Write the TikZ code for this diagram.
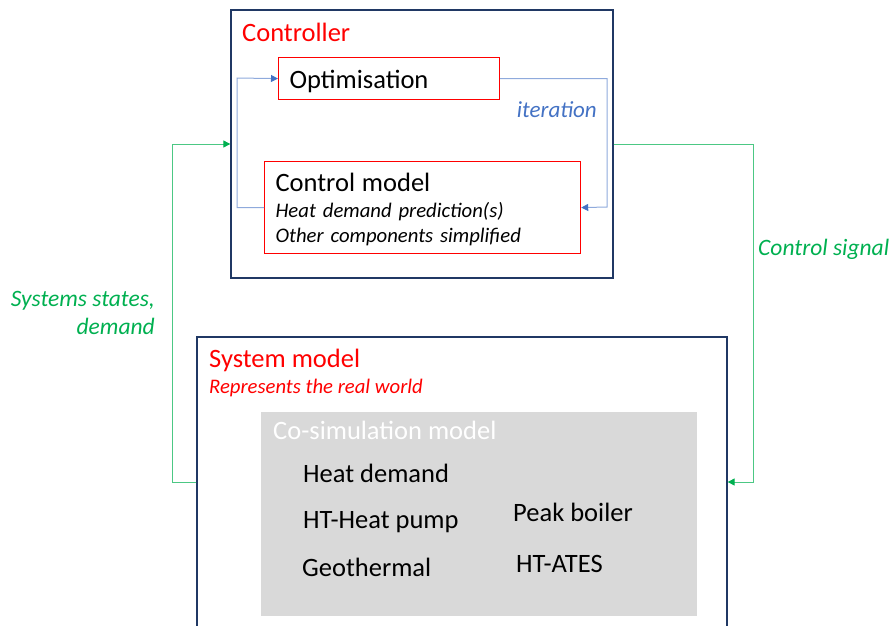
\documentclass[tikz,border=0pt]{standalone}
\usepackage{fontspec}
\setmainfont{Carlito}
\usetikzlibrary{arrows.meta, positioning, fit}

\definecolor{navy}{HTML}{203864}
\definecolor{loopblue}{HTML}{8FAADC}
\definecolor{tipblue}{HTML}{4472C4}
\definecolor{siggreen}{HTML}{00B050}
\definecolor{cosimgrey}{HTML}{D9D9D9}

\tikzset{
  frame/.style = {rectangle, draw=navy, line width=1.3pt, inner sep=0pt},
  redbox/.style = {rectangle, draw=red, line width=1.2pt, align=left, inner xsep=11pt, anchor=north west},
  title/.style = {inner sep=0pt, anchor=base west, font=\fontsize{26.5}{30}\selectfont},
  note/.style = {inner sep=0pt, anchor=base west, font=\fontsize{20.7}{25}\selectfont\itshape},
  part/.style = {inner sep=0pt, anchor=base west, font=\fontsize{26.5}{30}\selectfont},
  loopline/.style = {draw=loopblue, line width=1pt, -{Triangle[length=7pt, width=7pt, color=tipblue]}},
  sigline/.style = {draw=siggreen!70!white, line width=1pt, -{Triangle[length=7pt, width=7pt, color=siggreen]}},
  siglabel/.style = {inner sep=0pt, text=siggreen, font=\fontsize{23.5}{28}\selectfont\itshape}
}

\begin{document}
\begin{tikzpicture}[x=1pt, y=-1pt]
    \useasboundingbox (0,0) rectangle (892,625);
    \clip (0,0) rectangle (892,625);

    %Controller
    \node (ctrl) [frame, fit={(231,10) (613,278)}] {};
    \node (ctrlTitle) [title, text=red] at (242,41) {Controller};
    \node (opt) [redbox, text width=199pt, minimum height=42pt, text height=20pt, text depth=0pt] at (278,57)
        {\fontsize{26.5}{30}\selectfont Optimisation};
    \node (cm) [redbox, text width=294pt, minimum height=92pt, text height=20pt, text depth=52pt,
                font=\fontsize{20.7}{25}\selectfont] at (264,161)
        {{\fontsize{26.5}{30}\selectfont Control model}\\[1pt]
         \textit{Heat demand prediction(s)}\\
         \textit{Other components simplified}};
    \node (iter) [inner sep=0pt, anchor=base east, text=tipblue, font=\fontsize{23}{28}\selectfont\itshape] at (597,117) {iteration};

    %System model
    \node (sys) [frame, fit={(197,337) (727,627)}] {};
    \node (sysTitle) [title, text=red] at (209,367) {System model};
    \node (sysNote) [note, text=red] at (209,393) {Represents the real world};
    \node (cosim) [fill=cosimgrey, inner sep=0pt, fit={(261,412) (697,616)}] {};
    \node (cosimTitle) [part, text=white] at (273,439) {Co-simulation model};
    \node (demand) [part] at (303,482) {Heat demand};
    \node (hp) [part] at (303,528) {HT-Heat pump};
    \node (geo) [part] at (302,576) {Geothermal};
    \node (boiler) [part] at (513,521) {Peak boiler};
    \node (ates) [part] at (516,572) {HT-ATES};

    %Iteration loop
    \coordinate (loopL) at (237,78);
    \coordinate (loopR) at (607,207);
    \draw [loopline] (cm.west) -| (loopL) -- (opt.west);
    \draw [loopline] (opt.east) -| (loopR) -- (cm.east);

    %Signals
    \coordinate (sigL) at (172,482);
    \coordinate (sigR) at (753,144);
    \draw [sigline] (sys.west) -- (sigL) |- (ctrl.west);
    \draw [sigline] (ctrl.east) -- (sigR) |- (sys.east);
    \node (statesLabel) [siglabel, align=right, anchor=north east] at (155,291) {Systems states,\\demand};
    \node (signalLabel) [siglabel, anchor=base west] at (758,255) {Control signal};

\end{tikzpicture}
\end{document}
